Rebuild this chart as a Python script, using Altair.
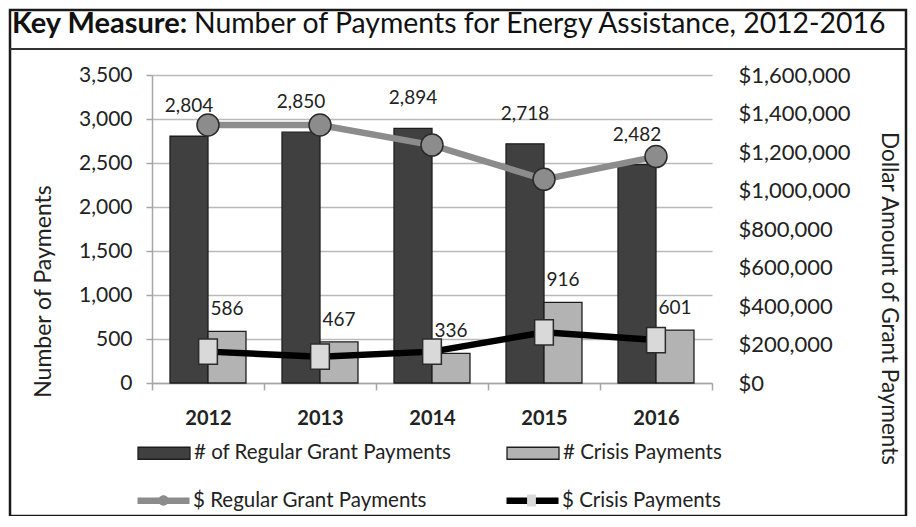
import altair as alt
import pandas as pd

# ---------------- data ----------------
years = ["2012", "2013", "2014", "2015", "2016"]
regular_counts = [2804, 2850, 2894, 2718, 2482]
crisis_counts = [586, 467, 336, 916, 601]
regular_dollars = [1340000, 1340000, 1236000, 1058000, 1176000]
crisis_dollars = [163000, 137000, 163000, 263000, 223000]

bar_series = ["# of Regular Grant Payments", "# Crisis Payments"]
line_series = ["$ Regular Grant Payments", "$ Crisis Payments"]
marker_series = [s + " " for s in line_series]  # separate domain for the marker legend overlay

left_ticks = [0, 500, 1000, 1500, 2000, 2500, 3000, 3500]
right_ticks = [0, 200000, 400000, 600000, 800000, 1000000, 1200000, 1400000, 1600000]

title_bold = "Key Measure:"
title_rest = "Number of Payments for Energy Assistance, 2012-2016"

counts = pd.DataFrame({
    "year": years * 2,
    "series": [bar_series[0]] * 5 + [bar_series[1]] * 5,
    "count": regular_counts + crisis_counts,
})
dollars = pd.DataFrame({
    "year": years * 2,
    "series": [line_series[0]] * 5 + [line_series[1]] * 5,
    "marker": [marker_series[0]] * 5 + [marker_series[1]] * 5,
    "amount": regular_dollars + crisis_dollars,
})

FONT = "Lato"
TXT = "#222222"
GRID = "#bababa"
LEG_FS = 20.5

x_enc = alt.X(
    "year:N", sort=years,
    scale=alt.Scale(paddingInner=0, paddingOuter=0),
    axis=alt.Axis(title=None, labelAngle=0, labelFontWeight="bold", labelFontSize=20,
                  labelColor=TXT, labelPadding=18, tickBand="extent", tickSize=7,
                  tickColor="#a6a6a6", tickWidth=1.5, domainColor="#a6a6a6",
                  domainWidth=1.5, grid=False),
)
xoff_enc = alt.XOffset("series:N", sort=bar_series,
                       scale=alt.Scale(domain=bar_series, paddingInner=0, paddingOuter=0.474))

left_axis = alt.Axis(values=left_ticks, format=",.0f", title="Number  of Payments",
                     titleFontSize=23, titleFontWeight="normal", titleColor=TXT,
                     titleX=-109, titleY=216, titleBaseline="middle",
                     labelFontSize=21, labelColor=TXT, labelPadding=14, labelOverlap=False,
                     tickSize=6, tickColor="#a6a6a6", tickWidth=1.5,
                     domainColor="#a6a6a6", domainWidth=1.5,
                     grid=True, gridColor=GRID, gridWidth=1.6)
right_axis = alt.Axis(orient="right", values=right_ticks, format="$,.0f",
                      title="Dollar Amount of Grant Payments", titleAngle=90,
                      titleFontSize=22.5, titleFontWeight="normal", titleColor=TXT,
                      titleX=176, titleY=223, titleBaseline="middle",
                      labelFontSize=22, labelColor=TXT, labelPadding=26,
                      labelOverlap=False, labelSeparation=0,
                      ticks=False, domain=False, grid=False)
left_scale = alt.Scale(domain=[0, 3500], nice=False)
right_scale = alt.Scale(domain=[0, 1600000], nice=False)

bar_legend = alt.Legend(
    title=None, orient="none", legendX=-15, legendY=351, direction="horizontal",
    columns=2, columnPadding=52, symbolType="M-1,-0.23H1V0.23H-1Z", symbolSize=2704,
    symbolStrokeColor="#1e1e1e", symbolStrokeWidth=1.3, labelFontSize=LEG_FS,
    labelColor=TXT, labelOffset=3, labelFont=FONT, labelLimit=0, padding=0, offset=0,
)
bars = alt.Chart(counts).mark_bar(stroke="#1e1e1e", strokeWidth=1.3, opacity=1).encode(
    x=x_enc, xOffset=xoff_enc,
    y=alt.Y("count:Q", scale=left_scale, axis=left_axis),
    fill=alt.Fill("series:N", scale=alt.Scale(domain=bar_series, range=["#404040", "#b3b3b3"]),
                  legend=bar_legend),
)


def label_layer(i, dy):
    return alt.Chart(counts).transform_filter(
        alt.datum.series == bar_series[i]
    ).mark_text(dy=dy, fontSize=19, color=TXT, baseline="middle", font=FONT).encode(
        x=alt.X("year:N", sort=years), xOffset=alt.XOffset("series:N", sort=bar_series),
        y=alt.Y("count:Q", scale=left_scale, axis=left_axis),
        text=alt.Text("count:Q", format=","),
    )


LINE_LEG_X = -18
LINE_LEG_Y = 396
LINE_COL2_X = 350
line_legend = alt.Legend(
    title=None, orient="none", legendX=LINE_LEG_X, legendY=LINE_LEG_Y, direction="horizontal",
    columns=2, columnPadding=66, symbolType="stroke", symbolSize=2704,
    symbolStrokeWidth=6.5, labelFontSize=LEG_FS, labelColor=TXT, labelOffset=0,
    labelFont=FONT, labelLimit=0, padding=0, offset=0,
)
lines = alt.Chart(dollars).mark_line(strokeWidth=6.5, opacity=1).encode(
    x=alt.X("year:N", sort=years),
    y=alt.Y("amount:Q", scale=right_scale, axis=right_axis),
    stroke=alt.Stroke("series:N", scale=alt.Scale(domain=line_series, range=["#8c8c8c", "#000000"]),
                      legend=line_legend),
)

circle_path = "M0.2,0A0.2,0.2,0,1,1,-0.2,0A0.2,0.2,0,1,1,0.2,0Z"
square_path = "M-0.17,-0.23H0.17V0.23H-0.17Z"
marker_fills = ["#8c8c8c", "#d9d9d9"]
marker_paths = [circle_path, square_path]
marker_leg_x = [LINE_LEG_X + 2.5, LINE_COL2_X + 2.5]


def marker_layer(i):
    leg = alt.Legend(
        title=None, orient="none", legendX=marker_leg_x[i], legendY=LINE_LEG_Y + 2.5,
        symbolSize=2704, symbolFillColor=marker_fills[i], symbolStrokeColor="#2b2b2b",
        symbolStrokeWidth=1.5, labelExpr="''", labelFontSize=LEG_FS, padding=0, offset=0,
    )
    return alt.Chart(dollars).transform_filter(
        alt.datum.series == line_series[i]
    ).mark_point(filled=True, fill=marker_fills[i], size=12100, stroke="#2b2b2b",
                 strokeWidth=1.5, opacity=1).encode(
        x=alt.X("year:N", sort=years),
        y=alt.Y("amount:Q", scale=right_scale, axis=right_axis),
        shape=alt.Shape("marker:N", scale=alt.Scale(domain=[marker_series[i]], range=[marker_paths[i]]),
                        legend=leg),
    )


one = pd.DataFrame({"k": [0]})
border = alt.Chart(one).mark_rect(fill="transparent", stroke="#1a1a1a", strokeWidth=2.5).encode(
    x=alt.value(-142), x2=alt.value(754), y=alt.value(-65), y2=alt.value(441),
)
separator = alt.Chart(one).mark_rule(color="#333333", strokeWidth=2).encode(
    x=alt.value(-142), x2=alt.value(754), y=alt.value(-26),
)
t1 = alt.Chart(pd.DataFrame({"t": [title_bold]})).mark_text(
    font=FONT, fontSize=29, fontWeight="bold", color="#111111", align="left", baseline="alphabetic"
).encode(x=alt.value(-140), y=alt.value(-42), text="t:N")
t2 = alt.Chart(pd.DataFrame({"t": [title_rest]})).mark_text(
    font=FONT, fontSize=28.4, color="#111111", align="left", baseline="alphabetic"
).encode(x=alt.value(42), y=alt.value(-42), text="t:N")

left = alt.layer(bars, label_layer(0, -30), label_layer(1, -22))
right = alt.layer(lines, marker_layer(0), marker_layer(1)).resolve_scale(shape="independent")
deco = alt.layer(border, separator, t1, t2)

chart = alt.layer(left, right, deco).resolve_scale(
    y="independent"
).properties(
    width=560, height=308,
    autosize=alt.AutoSizeParams(type="none"),
    padding={"left": 144, "top": 67, "right": 196, "bottom": 133},
).configure(font=FONT).configure_view(stroke=None).configure_axis(labelFont=FONT, titleFont=FONT)

chart.save("out.html", embed_options={"renderer": "svg", "actions": False})
